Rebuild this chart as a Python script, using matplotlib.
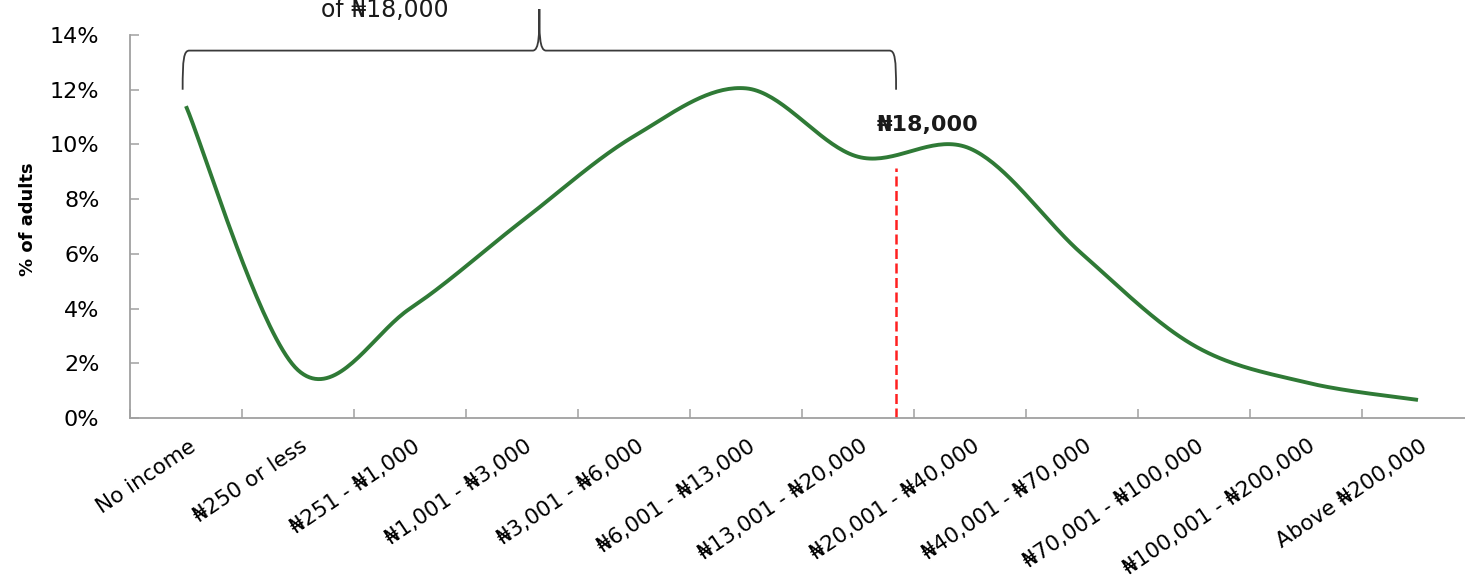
import numpy as np
import matplotlib
matplotlib.use('Agg')
import matplotlib.pyplot as plt
from matplotlib.path import Path
from matplotlib.patches import PathPatch

plt.rcParams['font.family'] = ['DejaVu Sans']

categories = ['No income', '₦250 or less', '₦251 - ₦1,000', '₦1,001 - ₦3,000',
              '₦3,001 - ₦6,000', '₦6,001 - ₦13,000', '₦13,001 - ₦20,000',
              '₦20,001 - ₦40,000', '₦40,001 - ₦70,000', '₦70,001 - ₦100,000',
              '₦100,001 - ₦200,000', 'Above ₦200,000']
share = [11.4, 1.75, 4.0, 7.2, 10.3, 12.05, 9.55, 9.85, 6.0, 2.65, 1.3, 0.66]
yticks = [0, 2, 4, 6, 8, 10, 12, 14]
wage_pos = 6.34      # where N18,000 falls on the category axis
wage_top = 9.15


def smooth(x, y, n=40):
    # Excel-style smoothed line: cubic bezier through every point
    x = np.asarray(x, float); y = np.asarray(y, float)
    px = np.concatenate([[x[0]], x, [x[-1]]])
    py = np.concatenate([[y[0]], y, [y[-1]]])
    xs, ys = [], []
    t = np.linspace(0, 1, n)
    for i in range(len(x) - 1):
        p0 = np.array([px[i + 1], py[i + 1]])
        p3 = np.array([px[i + 2], py[i + 2]])
        c1 = p0 + (np.array([px[i + 2], py[i + 2]]) - np.array([px[i], py[i]])) / 6
        c2 = p3 - (np.array([px[i + 3], py[i + 3]]) - np.array([px[i + 1], py[i + 1]])) / 6
        b = ((1 - t) ** 3)[:, None] * p0 + (3 * (1 - t) ** 2 * t)[:, None] * c1 \
            + (3 * (1 - t) * t ** 2)[:, None] * c2 + (t ** 3)[:, None] * p3
        xs.extend(b[:, 0]); ys.extend(b[:, 1])
    return np.array(xs), np.array(ys)


fig = plt.figure(figsize=(14.65, 5.86), dpi=100)
ax = fig.add_axes([130 / 1465, 168 / 586, 1344 / 1465, 383 / 586])

x = np.arange(len(categories))
sx, sy = smooth(x, share)
ax.plot(sx, sy, color='#2f7a36', lw=2.8, solid_capstyle='butt')

ax.plot([wage_pos, wage_pos], [0, wage_top], color='#ff2020', lw=1.8,
        dashes=(4, 1.8))
ax.text(wage_pos + 0.28, 10.71, '₦18,000', ha='center', va='center',
        fontsize=16, fontweight='bold', color='#1a1a1a')

# brace over the below-wage groups
xl, xr = -0.03, wage_pos
xm = (xl + xr) / 2
yb, yh, yp = 12.0, 13.43, 14.95
dx = 0.06
verts = [(xl, yb), (xl, yh - 0.3), (xl + 0.01, yh), (xl + dx, yh),
         (xm - dx, yh), (xm, yh), (xm, yp - 0.9), (xm, yp),
         (xm, yp - 0.9), (xm, yh), (xm + dx, yh),
         (xr - dx, yh), (xr - 0.01, yh), (xr, yh - 0.3), (xr, yb)]
codes = [Path.MOVETO, Path.CURVE4, Path.CURVE4, Path.CURVE4,
         Path.LINETO, Path.CURVE4, Path.CURVE4, Path.CURVE4,
         Path.CURVE4, Path.CURVE4, Path.CURVE4,
         Path.LINETO, Path.CURVE4, Path.CURVE4, Path.CURVE4]
ax.add_patch(PathPatch(Path(verts, codes), fill=False, ec='#3a3a3a', lw=1.3,
                       clip_on=False))
fig.text(385 / 1465, 1 - 17 / 586, 'of ₦18,000', ha='center', va='baseline',
         fontsize=17, color='#1a1a1a')

ax.set_xlim(-0.5, len(categories) - 0.5)
ax.set_ylim(0, 14)
ax.set_yticks(yticks)
ax.set_yticklabels([f'{v}%' for v in yticks])
ax.set_xticks(x)
ax.set_xticklabels(categories, rotation=34, ha='right', rotation_mode='anchor')
ax.set_xticks(np.arange(len(categories) + 1) - 0.5, minor=True)
ax.tick_params(axis='x', which='major', length=0, pad=13, labelsize=15.5)
ax.tick_params(axis='x', which='minor', direction='in', length=6.5,
               color='#a0a0a0', width=1.1)
ax.tick_params(axis='y', direction='in', length=6.5, color='#a0a0a0',
               width=1.1, labelsize=16, pad=22)
for lab in ax.get_xticklabels():
    lab.set_transform(lab.get_transform() +
                      matplotlib.transforms.ScaledTranslation(0.02, 0, fig.dpi_scale_trans))
ax.set_ylabel('% of adults', fontsize=13, fontweight='bold')
ax.yaxis.set_label_coords(-0.069, 0.52)

for side in ['top', 'right']:
    ax.spines[side].set_visible(False)
for side in ['left', 'bottom']:
    ax.spines[side].set_color('#a0a0a0')
    ax.spines[side].set_linewidth(1.3)

fig.savefig('out.png', dpi=100)
